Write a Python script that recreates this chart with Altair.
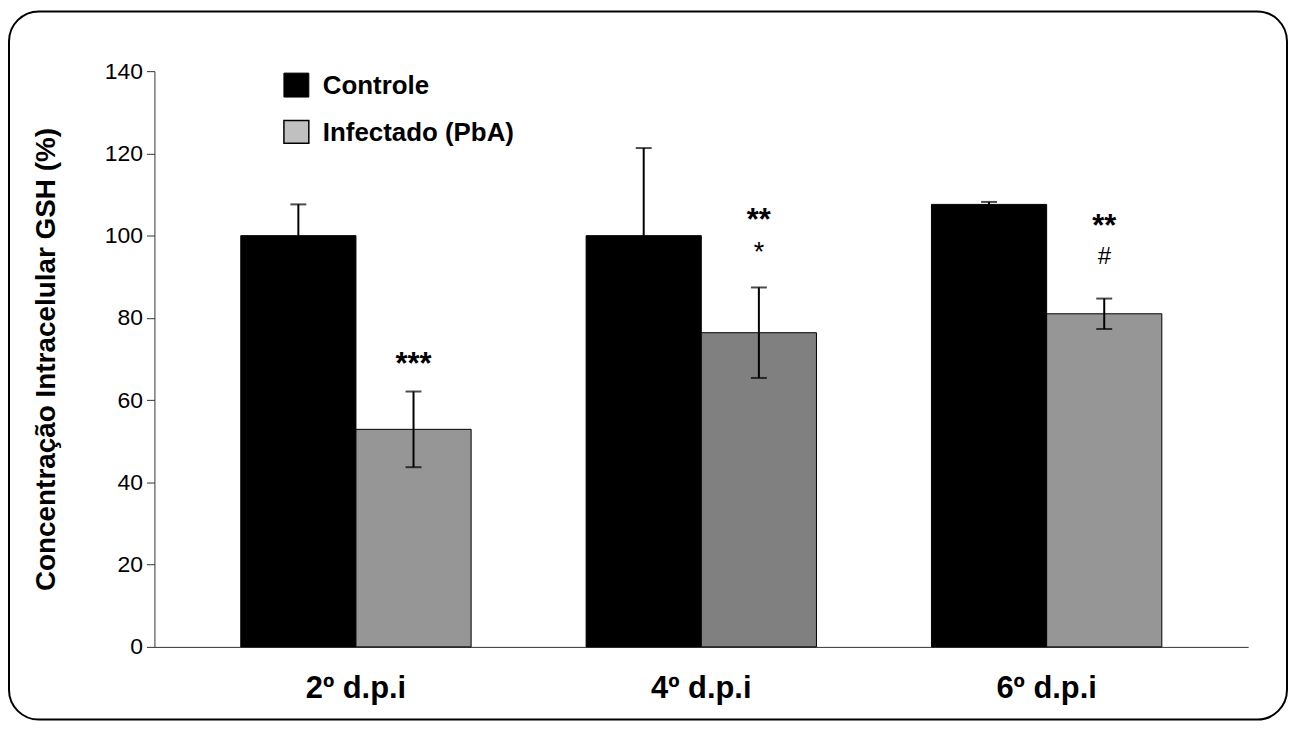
import altair as alt
import pandas as pd

# ---- data ----
days = ["2º d.p.i", "4º d.p.i", "6º d.p.i"]
groups = ["Controle", "Infectado (PbA)"]
controle = [100.0, 100.0, 107.6]
controle_err = [7.6, 21.3, 0.6]
infectado = [52.9, 76.4, 81.0]
infectado_err = [9.2, 11.0, 3.7]
controle_fill = ["#000000", "#000000", "#000000"]
infectado_fill = ["#969696", "#808080", "#969696"]

ann_main_text = ["***", "**", "**"]
ann_main_y = [69.6, 104.6, 103.0]
ann_sub_text = ["*", "#"]
ann_sub_days = ["4º d.p.i", "6º d.p.i"]
ann_sub_y = [96.9, 94.7]

legend_labels = ["Controle", "Infectado (PbA)"]
legend_colors = ["#000000", "#C0C0C0"]

y_ticks = [0, 20, 40, 60, 80, 100, 120, 140]

# ---- tables ----
rows = []
for i, d in enumerate(days):
    rows.append(dict(day=d, grupo=groups[0], value=controle[i], err=controle_err[i], fill=controle_fill[i]))
    rows.append(dict(day=d, grupo=groups[1], value=infectado[i], err=infectado_err[i], fill=infectado_fill[i]))
df = pd.DataFrame(rows)
df["low"] = df["value"] - df["err"]
df["high"] = df["value"] + df["err"]

ann_main = pd.DataFrame(dict(day=days, grupo=[groups[1]] * 3, text=ann_main_text, y=ann_main_y))
ann_sub = pd.DataFrame(dict(day=ann_sub_days, grupo=[groups[1]] * 2, text=ann_sub_text, y=ann_sub_y))

FONT = "Liberation Sans"
W, H = 1098, 578
PAD_L, PAD_T, PAD_R, PAD_B = 147, 62, 40, 74

x = alt.X(
    "day:N", sort=days,
    scale=alt.Scale(paddingInner=0.333, paddingOuter=0.25),
    axis=alt.Axis(title=None, labelAngle=0, labelFont=FONT, labelFontSize=31,
                  labelFontWeight="bold", labelColor="black", ticks=False,
                  domainColor="#333333", domainWidth=1, labelPadding=27),
)
xo = alt.XOffset("grupo:N", sort=groups, scale=alt.Scale(paddingInner=0, paddingOuter=0))

y_axis = alt.Axis(values=y_ticks, title="Concentração Intracelular GSH (%)", grid=False,
                  tickSize=8, tickColor="#333333", domainColor="#333333",
                  labelFont=FONT, labelFontSize=23, labelColor="black", labelPadding=4,
                  titleFont=FONT, titleFontSize=28, titleFontWeight="bold", titleColor="black",
                  titlePadding=44)
yscale = alt.Scale(domain=[0, 140], nice=False)

bars = alt.Chart(df).mark_bar(stroke="black", strokeWidth=1).encode(
    x=x, xOffset=xo,
    y=alt.Y("value:Q", scale=yscale, axis=y_axis),
    fill=alt.Fill("fill:N", scale=None),
)

rules = alt.Chart(df).mark_rule(strokeWidth=2, color="black").encode(
    x=x, xOffset=xo,
    y=alt.Y("low:Q", scale=yscale, axis=y_axis), y2="high:Q",
)
caps_hi = alt.Chart(df).mark_tick(size=16, thickness=2, color="black", orient="horizontal").encode(
    x=x, xOffset=xo, y=alt.Y("high:Q", scale=yscale, axis=y_axis),
)
caps_lo = alt.Chart(df).mark_tick(size=16, thickness=2, color="black", orient="horizontal").encode(
    x=x, xOffset=xo, y=alt.Y("low:Q", scale=yscale, axis=y_axis),
)

t_main = alt.Chart(ann_main).mark_text(font=FONT, fontSize=31, fontWeight="bold", baseline="middle",
                                        color="black", dy=4).encode(
    x=x, xOffset=xo, y=alt.Y("y:Q", scale=yscale, axis=y_axis), text="text:N",
)
t_star = alt.Chart(ann_sub).transform_filter(alt.datum.text == "*").mark_text(
    font=FONT, fontSize=27, baseline="middle", color="black", dy=5).encode(
    x=x, xOffset=xo, y=alt.Y("y:Q", scale=yscale, axis=y_axis), text="text:N",
)
t_hash = alt.Chart(ann_sub).transform_filter(alt.datum.text == "#").mark_text(
    font=FONT, fontSize=24, fontStyle="italic", baseline="middle", color="black").encode(
    x=x, xOffset=xo, y=alt.Y("y:Q", scale=yscale, axis=y_axis), text="text:N",
)

# ---- legend (drawn manually) ----
leg_base = alt.Chart(pd.DataFrame({"a": [0]}))
leg1 = leg_base.mark_rect(fill=legend_colors[0], stroke="black", strokeWidth=1).encode(
    x=alt.value(130), x2=alt.value(155), y=alt.value(2), y2=alt.value(26))
leg2 = leg_base.mark_rect(fill=legend_colors[1], stroke="black", strokeWidth=1.5).encode(
    x=alt.value(130), x2=alt.value(155), y=alt.value(49.5), y2=alt.value(72.5))
leg1t = leg_base.mark_text(font=FONT, fontSize=26, fontWeight="bold", align="left", baseline="middle",
                           color="black", text=legend_labels[0]).encode(
    x=alt.value(169), y=alt.value(15))
leg2t = leg_base.mark_text(font=FONT, fontSize=26, fontWeight="bold", align="left", baseline="middle",
                           color="black", text=legend_labels[1]).encode(
    x=alt.value(169), y=alt.value(62))

# ---- rounded frame around the whole figure ----
frame = leg_base.mark_rect(filled=False, stroke="black", strokeWidth=2, cornerRadius=30,
                           clip=False).encode(
    x=alt.value(-146), x2=alt.value(W + PAD_R - 1),
    y=alt.value(-60), y2=alt.value(H + PAD_B - 1))

chart = alt.layer(
    bars, rules, caps_hi, caps_lo, t_main, t_star, t_hash,
    leg1, leg2, leg1t, leg2t, frame,
).properties(
    width=W, height=H,
    autosize=alt.AutoSizeParams(type="none"),
    padding={"left": PAD_L, "top": PAD_T, "right": PAD_R, "bottom": PAD_B},
    background="white",
).configure_view(stroke=None)

chart.save("out.html", embed_options={"renderer": "svg", "actions": False})
